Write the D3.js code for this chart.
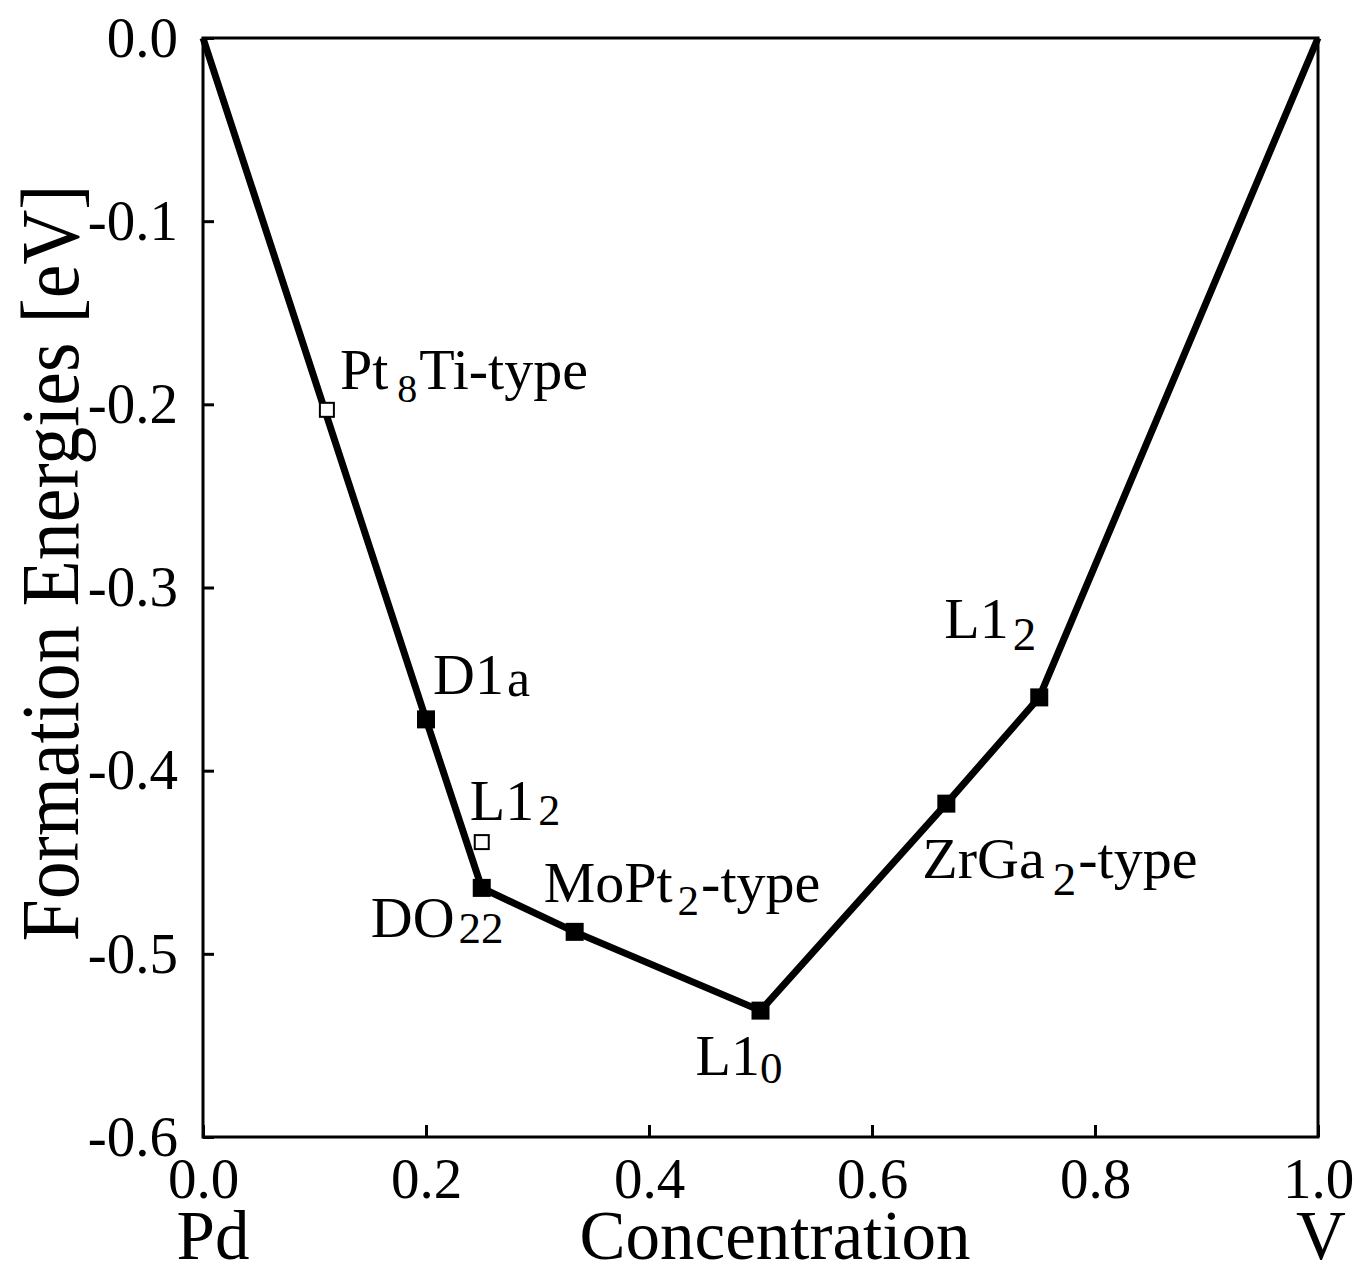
<!DOCTYPE html>
<html>
<head>
<meta charset="utf-8">
<script src="https://cdn.jsdelivr.net/npm/d3@7"></script>
<style>
  body { margin: 0; background: #fff; }
  text { font-family: "Liberation Serif", "Times New Roman", serif; fill: #000; }
</style>
</head>
<body>
<div id="chart"></div>
<script>
// concentration of V and formation energy (eV)
const hullX = [0.0, 0.2, 0.25, 1 / 3, 0.5, 2 / 3, 0.75, 1.0];
const hullY = [0.0, -0.372, -0.464, -0.488, -0.531, -0.418, -0.360, 0.0];

// structures on the hull (filled squares)
const stableNames = ["D1a", "DO22", "MoPt2-type", "L10", "ZrGa2-type", "L12"];
const stableX = [0.2, 0.25, 1 / 3, 0.5, 2 / 3, 0.75];
const stableY = [-0.372, -0.464, -0.488, -0.531, -0.418, -0.360];

// structures above the hull (open squares)
const otherNames = ["Pt8Ti-type", "L12"];
const otherX = [1 / 9, 0.25];
const otherY = [-0.203, -0.439];

const xTicks = [0, 0.2, 0.4, 0.6, 0.8, 1.0];
const xTickLabels = ["0.0", "0.2", "0.4", "0.6", "0.8", "1.0"];
const yTicks = [0, -0.1, -0.2, -0.3, -0.4, -0.5, -0.6];
const yTickLabels = ["0.0", "-0.1", "-0.2", "-0.3", "-0.4", "-0.5", "-0.6"];

// label pieces: main text, subscript, rest
const labelParts = {
  "D1a": ["D1", "a", ""],
  "DO22": ["DO", "22", ""],
  "MoPt2-type": ["MoPt", "2", "-type"],
  "L10": ["L1", "0", ""],
  "ZrGa2-type": ["ZrGa", "2", "-type"],
  "L12": ["L1", "2", ""],
  "Pt8Ti-type": ["Pt", "8", "Ti-type"]
};

// label layout (pixels from marker centre) and subscript style
const stableLayout = [
  { dx: 7, dy: -25, subSize: 52, subDx: 3, subDy: 2 },
  { dx: -111, dy: 49, subSize: 45, subDx: 4, subDy: 6 },
  { dx: -31, dy: -30, subSize: 43, subDx: 5, subDy: 13 },
  { dx: -65, dy: 64, subSize: 45, subDx: 0, subDy: 8 },
  { dx: -24, dy: 74, subSize: 47, subDx: 8, subDy: 17 },
  { dx: -95, dy: -59, subSize: 47, subDx: 4, subDy: 12 }
];
const otherLayout = [
  { dx: 13, dy: -21, subSize: 40, subDx: 9, subDy: 13 },
  { dx: -12, dy: -22, subSize: 44, subDx: 4, subDy: 5 }
];

const W = 1353, H = 1275;
const margin = { left: 203, top: 38, right: 35, bottom: 138 };
const iw = W - margin.left - margin.right;
const ih = H - margin.top - margin.bottom;

const svg = d3.select("#chart").append("svg")
  .attr("width", W).attr("height", H);

const g = svg.append("g")
  .attr("transform", `translate(${margin.left},${margin.top})`);

const x = d3.scaleLinear().domain([0, 1]).range([0, iw]);
const y = d3.scaleLinear().domain([-0.6, 0]).range([ih, 0]);

// axes with inward ticks
const yAxis = g.append("g")
  .call(d3.axisLeft(y).tickValues(yTicks)
    .tickFormat((d, i) => yTickLabels[i])
    .tickSizeInner(-11).tickSizeOuter(0).tickPadding(25));

const xAxis = g.append("g")
  .attr("transform", `translate(0,${ih})`)
  .call(d3.axisBottom(x).tickValues(xTicks)
    .tickFormat((d, i) => xTickLabels[i])
    .tickSizeInner(-12).tickSizeOuter(0).tickPadding(21));

[yAxis, xAxis].forEach(a => {
  a.select(".domain").remove();
  a.selectAll(".tick line").attr("stroke", "#000").attr("stroke-width", 3);
  a.selectAll(".tick text")
    .style("font-family", '"Liberation Serif", serif')
    .style("font-size", "57px").attr("fill", "#000");
});

// frame
g.append("rect")
  .attr("x", 0).attr("y", 0).attr("width", iw).attr("height", ih)
  .attr("fill", "none").attr("stroke", "#000").attr("stroke-width", 3);

// hull line
const hull = hullX.map((v, i) => [v, hullY[i]]);
g.append("path")
  .datum(hull)
  .attr("fill", "none").attr("stroke", "#000").attr("stroke-width", 7)
  .attr("stroke-linejoin", "miter")
  .attr("d", d3.line().x(d => x(d[0])).y(d => y(d[1])));

// markers
const stable = stableNames.map((n, i) => ({ name: n, x: stableX[i], y: stableY[i], lay: stableLayout[i] }));
const other = otherNames.map((n, i) => ({ name: n, x: otherX[i], y: otherY[i], lay: otherLayout[i] }));

g.selectAll(".filled").data(stable).enter().append("rect")
  .attr("x", d => x(d.x) - 9).attr("y", d => y(d.y) - 9)
  .attr("width", 18).attr("height", 18).attr("fill", "#000");

g.selectAll(".open").data(other).enter().append("rect")
  .attr("x", d => x(d.x) - 7).attr("y", d => y(d.y) - 7)
  .attr("width", 14).attr("height", 14)
  .attr("fill", "#fff").attr("stroke", "#000").attr("stroke-width", 2);

// structure labels with subscripts
function addLabel(d) {
  const p = labelParts[d.name];
  const t = g.append("text")
    .attr("x", x(d.x) + d.lay.dx).attr("y", y(d.y) + d.lay.dy)
    .style("font-size", "58px");
  t.append("tspan").text(p[0]);
  t.append("tspan").attr("dx", d.lay.subDx).attr("dy", d.lay.subDy)
    .style("font-size", d.lay.subSize + "px").text(p[1]);
  if (p[2]) {
    t.append("tspan").attr("dx", 2).attr("dy", -d.lay.subDy).text(p[2]);
  }
}
stable.forEach(addLabel);
other.forEach(addLabel);

// axis titles
svg.append("text")
  .attr("transform", `translate(78,563) rotate(-90)`)
  .attr("text-anchor", "middle")
  .attr("textLength", 757).attr("lengthAdjust", "spacingAndGlyphs")
  .style("font-size", "82px")
  .text("Formation Energies [eV]");

const bottomTitles = [["Pd", 213], ["Concentration", 775], ["V", 1321]];
svg.selectAll(".xtitle").data(bottomTitles).enter().append("text")
  .attr("x", d => d[1]).attr("y", 1259)
  .attr("text-anchor", "middle")
  .style("font-size", "69px")
  .text(d => d[0]);
</script>
</body>
</html>
